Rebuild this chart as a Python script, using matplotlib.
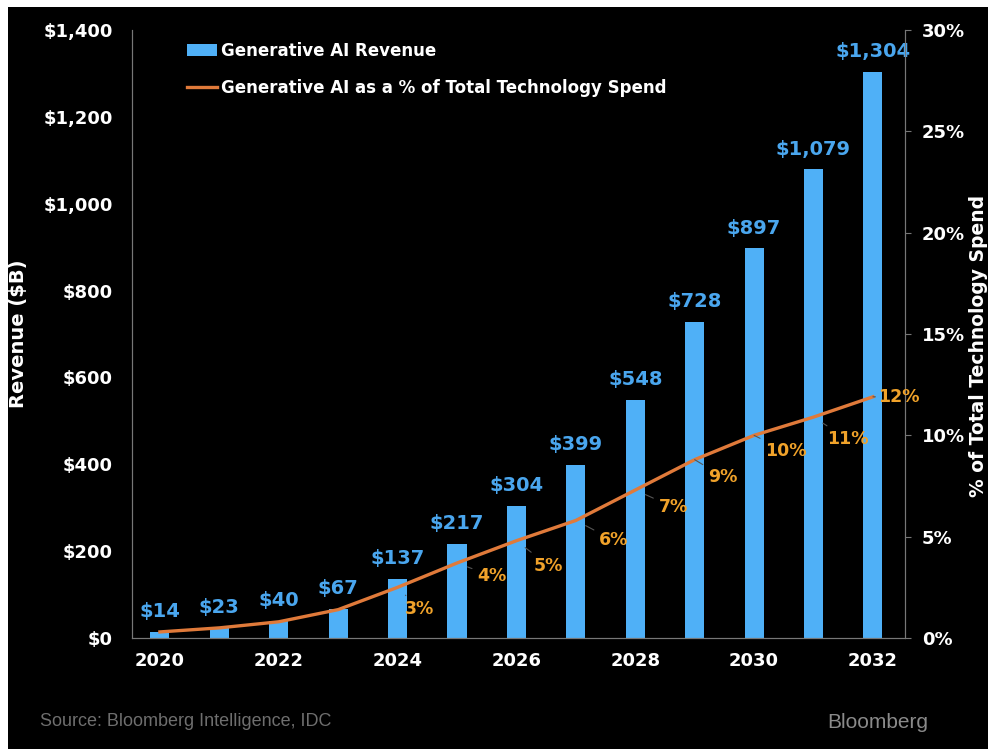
import matplotlib.pyplot as plt
from matplotlib.patches import Rectangle
from matplotlib.lines import Line2D
from matplotlib.patches import Patch

# === DATA ===
years = [2020, 2021, 2022, 2023, 2024, 2025, 2026, 2027, 2028, 2029, 2030, 2031, 2032]
revenue = [14, 23, 40, 67, 137, 217, 304, 399, 548, 728, 897, 1079, 1304]
pct_spend = [0.3, 0.5, 0.8, 1.4, 2.5, 3.7, 4.8, 5.8, 7.3, 8.8, 10.0, 10.9, 11.9]
pct_labels = ["", "", "", "", "3%", "4%", "5%", "6%", "7%", "9%", "10%", "11%", "12%"]
# label centre offsets in pixels from the line point
pct_offsets = [None, None, None, None, (22, -22), (35, -13), (32, -25), (38, -20),
               (38, -17), (28, -17), (32, -16), (34, -22), (26, 0)]

rev_ticks = [0, 200, 400, 600, 800, 1000, 1200, 1400]
pct_ticks = [0, 5, 10, 15, 20, 25, 30]

# === STYLE ===
plt.rcParams['font.family'] = ['DejaVu Sans']
BAR_BLUE = "#4fb0f7"
LABEL_BLUE = "#4aa6ee"
LINE_ORANGE = "#e07a3a"
PCT_AMBER = "#f0a22a"
AXIS_GRAY = "#777777"

fig = plt.figure(figsize=(9.88, 7.49), dpi=100)
fig.patch.set_facecolor("white")
fig.patches.append(Rectangle((8 / 988, 0), 1, (749 - 7) / 749, transform=fig.transFigure,
                             facecolor="black", edgecolor="none", zorder=-10))

ax = fig.add_axes([132 / 988, 111 / 749, (905 - 132) / 988, (638 - 30) / 749])
ax.set_facecolor("black")
ax2 = ax.twinx()

# === BARS ===
ax.bar(years, revenue, width=0.32, color=BAR_BLUE, zorder=2)
for x, v in zip(years, revenue):
    ax.text(x, v + 25, f"${v:,}", ha="center", va="bottom", color=LABEL_BLUE,
            fontsize=14, fontweight="bold")

ax.set_xlim(2019.53, 2032.54)
ax.set_ylim(0, 1400)
ax.set_yticks(rev_ticks)
ax.set_yticklabels([f"${t:,}" for t in rev_ticks])
ax.set_xticks(years[::2])
ax.tick_params(axis="y", colors="white", labelsize=13, length=0, pad=14)
ax.tick_params(axis="x", colors="white", labelsize=13, length=0, pad=10)
for lab in ax.get_xticklabels() + ax.get_yticklabels():
    lab.set_fontweight("bold")
ax.set_ylabel("Revenue ($B)", color="white", fontsize=14, fontweight="bold")
ax.yaxis.set_label_coords(-0.134, 0.5)

# === LINE ===
ax2.plot(years, pct_spend, color=LINE_ORANGE, linewidth=2.4, zorder=3)
for x, p, lab, off in zip(years, pct_spend, pct_labels, pct_offsets):
    if not lab:
        continue
    ax2.annotate(lab, xy=(x, p), xytext=off, textcoords="offset pixels",
                 ha="center", va="center", color=PCT_AMBER, fontsize=12.5, fontweight="bold",
                 arrowprops=dict(arrowstyle="-", color="#555555", lw=0.8,
                                 shrinkA=2, shrinkB=8))

ax2.set_ylim(0, 30)
ax2.set_yticks(pct_ticks)
ax2.set_yticklabels([f"{t}%" for t in pct_ticks])
ax2.tick_params(axis="y", colors=AXIS_GRAY, labelcolor="white", labelsize=13,
                length=4, pad=8)
for lab in ax2.get_yticklabels():
    lab.set_fontweight("bold")
ax2.set_ylabel("% of Total Technology Spend", color="white", fontsize=13.5,
               fontweight="bold", rotation=90)
ax2.yaxis.set_label_coords(1.083, 0.48)

for a in (ax, ax2):
    a.spines["top"].set_visible(False)
    a.spines["left"].set_color(AXIS_GRAY)
    a.spines["right"].set_color(AXIS_GRAY)
    a.spines["bottom"].set_color(AXIS_GRAY)

# === LEGEND ===
handles = [Patch(facecolor=BAR_BLUE, edgecolor="none"),
           Line2D([0], [0], color=LINE_ORANGE, linewidth=2.4)]
leg = ax.legend(handles, ["Generative AI Revenue",
                          "Generative AI as a % of Total Technology Spend"],
                loc="upper left", bbox_to_anchor=(0.052, 1.005), frameon=False,
                fontsize=12, handlelength=1.8, handletextpad=0.2, labelspacing=1.15)
for t in leg.get_texts():
    t.set_color("white")
    t.set_fontweight("bold")

# === FOOTER ===
fig.text(40 / 988, 1 - 722 / 749, "Source: Bloomberg Intelligence, IDC", color="#6e6e6e",
         fontsize=13, va="center", ha="left", family="Liberation Sans")
fig.text(928 / 988, 1 - 722 / 749, "Bloomberg", color="#8a8a8a",
         fontsize=15, va="center", ha="right", family="Liberation Sans")

fig.savefig("out.png", dpi=100, facecolor=fig.get_facecolor())
